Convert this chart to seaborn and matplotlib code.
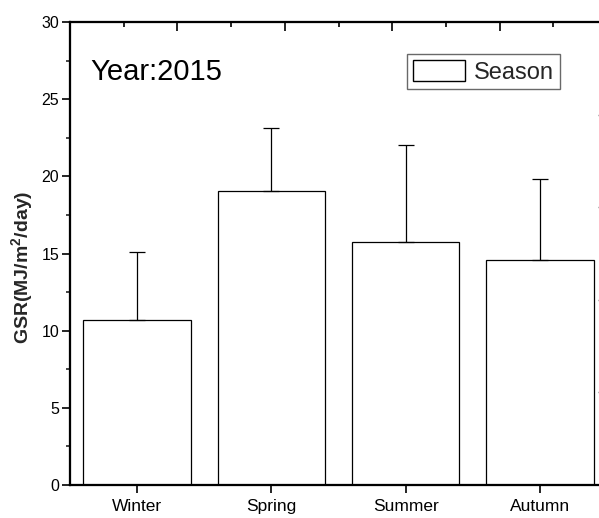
import matplotlib
matplotlib.use("Agg")
import matplotlib.pyplot as plt
import matplotlib.patches as mpatches
import seaborn as sns
import pandas as pd

seasons = ["Winter", "Spring", "Summer", "Autumn"]
gsr_mean = [10.7, 19.05, 15.75, 14.6]
gsr_err = [4.4, 4.05, 6.25, 5.25]
y_major_ticks = [0, 5, 10, 15, 20, 25, 30]
y_minor_ticks = [2.5, 7.5, 12.5, 17.5, 22.5, 27.5]
top_major_ticks = [0.3, 1.1, 1.9, 2.7]
top_minor_ticks = [-0.1, 0.7, 1.5, 2.3, 3.1]
right_ticks = [6, 12, 18, 24]
year_text = "Year:2015"
legend_label = "Season"
ylabel = r"GSR(MJ/m$^{2}$/day)"

sns.set_theme(style="white")
plt.rcParams["font.family"] = ["Liberation Sans", "DejaVu Sans"]
plt.rcParams["mathtext.fontset"] = "custom"
plt.rcParams["mathtext.rm"] = "Liberation Sans"
plt.rcParams["mathtext.bf"] = "Liberation Sans:bold"
plt.rcParams["mathtext.default"] = "regular"

df = pd.DataFrame({"season": seasons, "gsr": gsr_mean})

fig = plt.figure(figsize=(5.99, 5.18), dpi=100)
ax = fig.add_axes([70 / 599, 33 / 518, 537 / 599, 463 / 518])

sns.barplot(data=df, x="season", y="gsr", order=seasons, color="white",
            edgecolor="black", linewidth=0.9, width=0.8, errorbar=None,
            saturation=1, ax=ax)
for p in ax.patches:
    p.set_facecolor("white")

ax.errorbar(range(len(seasons)), gsr_mean, yerr=[[0] * len(seasons), gsr_err],
            fmt="none", ecolor="black", elinewidth=0.9, capsize=5.5,
            capthick=0.9, zorder=3)

ax.set_xlim(-0.5, 3.5)
ax.set_ylim(0, 30)
ax.set_yticks(y_major_ticks)
ax.set_yticks(y_minor_ticks, minor=True)
ax.set_xlabel("")
ax.set_ylabel(ylabel, fontsize=14, fontweight="bold")
ax.yaxis.set_label_coords(-35 / 537, 0.47)

for s in ax.spines.values():
    s.set_color("black")
    s.set_linewidth(1.5)

ax.tick_params(axis="y", which="major", direction="out", length=5.8, width=1.2,
               labelsize=11.5, pad=2, colors="black", left=True)
ax.tick_params(axis="y", which="minor", direction="out", length=3, width=1.2,
               left=True)
ax.tick_params(axis="x", which="major", direction="out", length=5.8, width=1.2,
               labelsize=12.5, pad=4, colors="black", bottom=True)

# top axis ticks
axt = ax.twiny()
axt.set_xlim(ax.get_xlim())
axt.set_xticks(top_major_ticks)
axt.set_xticks(top_minor_ticks, minor=True)
axt.set_xticklabels([])
axt.tick_params(axis="x", which="major", direction="in", length=6.5, width=1.2,
                top=True, colors="black")
axt.tick_params(axis="x", which="minor", direction="in", length=3.6, width=1.2,
                top=True, colors="black")
axt.grid(False)

# right axis ticks
axr = ax.twinx()
axr.set_ylim(ax.get_ylim())
axr.set_yticks(right_ticks)
axr.set_yticklabels([])
axr.tick_params(axis="y", which="major", direction="in", length=6.3, width=1.0,
                right=True, colors="#777777")
axr.grid(False)
for a in (axt, axr):
    for s in a.spines.values():
        s.set_color("black")
        s.set_linewidth(1.5)

ax.text(20 / 537, (485 - 80) / 463, year_text, transform=ax.transAxes,
        fontsize=21, va="baseline", ha="left", color="black")

handle = mpatches.Patch(facecolor="white", edgecolor="black", linewidth=1.0,
                        label=legend_label)
leg = ax.legend(handles=[handle], loc="upper right",
                bbox_to_anchor=(490 / 537, (485 - 54) / 463),
                borderaxespad=0, fontsize=17, frameon=True, fancybox=False,
                handlelength=2.2, handleheight=1.0, handletextpad=0.4,
                borderpad=0.25)
leg.get_frame().set_edgecolor("#444444")
leg.get_frame().set_linewidth(1.0)
leg.set_zorder(10)

fig.savefig("out.png", dpi=100)
